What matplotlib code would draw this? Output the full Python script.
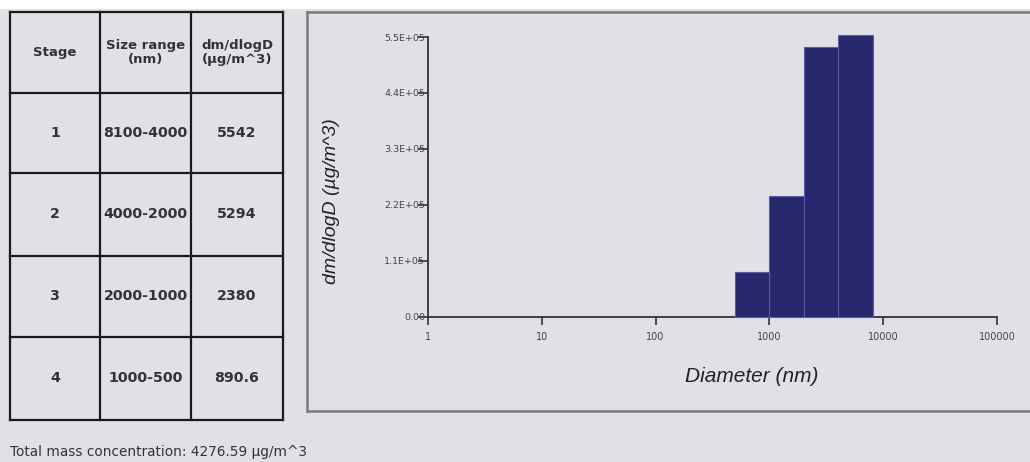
import matplotlib
matplotlib.use("Agg")
import matplotlib.pyplot as plt
from matplotlib.patches import Rectangle
from matplotlib.lines import Line2D

# Impactor stage data
stages = ["1", "2", "3", "4"]
size_ranges = ["8100-4000", "4000-2000", "2000-1000", "1000-500"]
dm_dlogD = [5542, 5294, 2380, 890.6]          # ug/m^3
bin_upper = [8100, 4000, 2000, 1000]          # nm
bin_lower = [4000, 2000, 1000, 500]           # nm
plot_scale = 100                              # histogram is drawn at x100
total_mass = 4276.59

header = ["Stage", "Size range\n(nm)", "dm/dlogD\n(\u00b5g/m^3)"]
y_ticks = [0, 1.1e5, 2.2e5, 3.3e5, 4.4e5, 5.5e5]
y_tick_labels = ["0.00", "1.1E+05", "2.2E+05", "3.3E+05", "4.4E+05", "5.5E+05"]
x_ticks = [1, 10, 100, 1000, 10000, 100000]
x_tick_labels = ["1", "10", "100", "1000", "10000", "100000"]

BG = "#e1e0e6"
BAR = "#28286f"
TXT = "#333333"

W, H = 1030, 462
fig = plt.figure(figsize=(W / 100, H / 100), dpi=100, facecolor=BG)

# Page layer in pixel coordinates
page = fig.add_axes([0, 0, 1, 1])
page.set_xlim(0, W)
page.set_ylim(H, 0)
page.axis("off")
page.add_patch(Rectangle((0, 0), W, 9, facecolor="white", edgecolor="none"))

# Summary table
col_x = [10, 100, 191, 283]
row_y = [12, 93, 173, 256, 337, 420]
for x in col_x:
    page.add_line(Line2D([x, x], [row_y[0], row_y[-1]], color="#1a1a1a", lw=1.6))
for y in row_y:
    page.add_line(Line2D([col_x[0], col_x[-1]], [y, y], color="#1a1a1a", lw=1.6))

cell_font = dict(family="DejaVu Sans", weight="bold", color=TXT, ha="center",
                 va="center")
for j, h in enumerate(header):
    cx = (col_x[j] + col_x[j + 1]) / 2
    cy = (row_y[0] + row_y[1]) / 2
    page.text(cx, cy, h, fontsize=9.5, linespacing=1.0, **cell_font)

for i in range(len(stages)):
    cy = (row_y[i + 1] + row_y[i + 2]) / 2
    vals = [stages[i], size_ranges[i], f"{dm_dlogD[i]:g}"]
    for j, v in enumerate(vals):
        cx = (col_x[j] + col_x[j + 1]) / 2
        page.text(cx, cy, v, fontsize=10.2, **cell_font)

page.text(10, 452, f"Total mass concentration: {total_mass} \u00b5g/m^3",
          fontsize=9.8, family="DejaVu Sans", color=TXT, ha="left", va="center")

# Chart panel frame (open on the right)
page.add_line(Line2D([307, W], [12, 12], color="#7a7a7a", lw=1.8))
page.add_line(Line2D([307, 307], [12, 411], color="#7a7a7a", lw=1.8))
page.add_line(Line2D([307, W], [411, 411], color="#7a7a7a", lw=1.8))

# Histogram axes
ax_l, ax_r, ax_t, ax_b = 428, 997, 37, 317
ax = fig.add_axes([ax_l / W, 1 - ax_b / H, (ax_r - ax_l) / W, (ax_b - ax_t) / H])
ax.set_facecolor("none")
ax.set_xscale("log")
ax.set_xlim(1, 100000)
ax.set_ylim(0, 5.5e5)

heights = [v * plot_scale for v in dm_dlogD]
widths = [u - l for u, l in zip(bin_upper, bin_lower)]
ax.bar(bin_lower, heights, width=widths, align="edge", color=BAR,
       edgecolor="#5c5ca8", linewidth=0.8, clip_on=False, zorder=3)

for s in ("top", "right"):
    ax.spines[s].set_visible(False)
for s in ("left", "bottom"):
    ax.spines[s].set_color("#333333")
    ax.spines[s].set_linewidth(1.3)

ax.set_yticks(y_ticks)
ax.set_yticklabels(y_tick_labels)
ax.set_xticks(x_ticks)
ax.set_xticklabels(x_tick_labels)
ax.minorticks_off()
ax.tick_params(axis="y", length=7, width=1.2, color="#333333", pad=-5,
               labelsize=6.8, labelcolor="#444444")
ax.tick_params(axis="x", length=6, width=1.2, color="#333333", pad=5,
               labelsize=7, labelcolor="#444444")

# Axis titles
page.text(331, 201, "dm/dlogD (\u00b5g/m^3)", rotation=90, fontsize=14,
          style="italic", family="Liberation Sans", color="#222222",
          ha="center", va="center")
page.text(752, 377, "Diameter (nm)", fontsize=15, style="italic",
          family="Liberation Sans", color="#222222", ha="center", va="center")

fig.savefig("out.png", dpi=100, facecolor=BG)
